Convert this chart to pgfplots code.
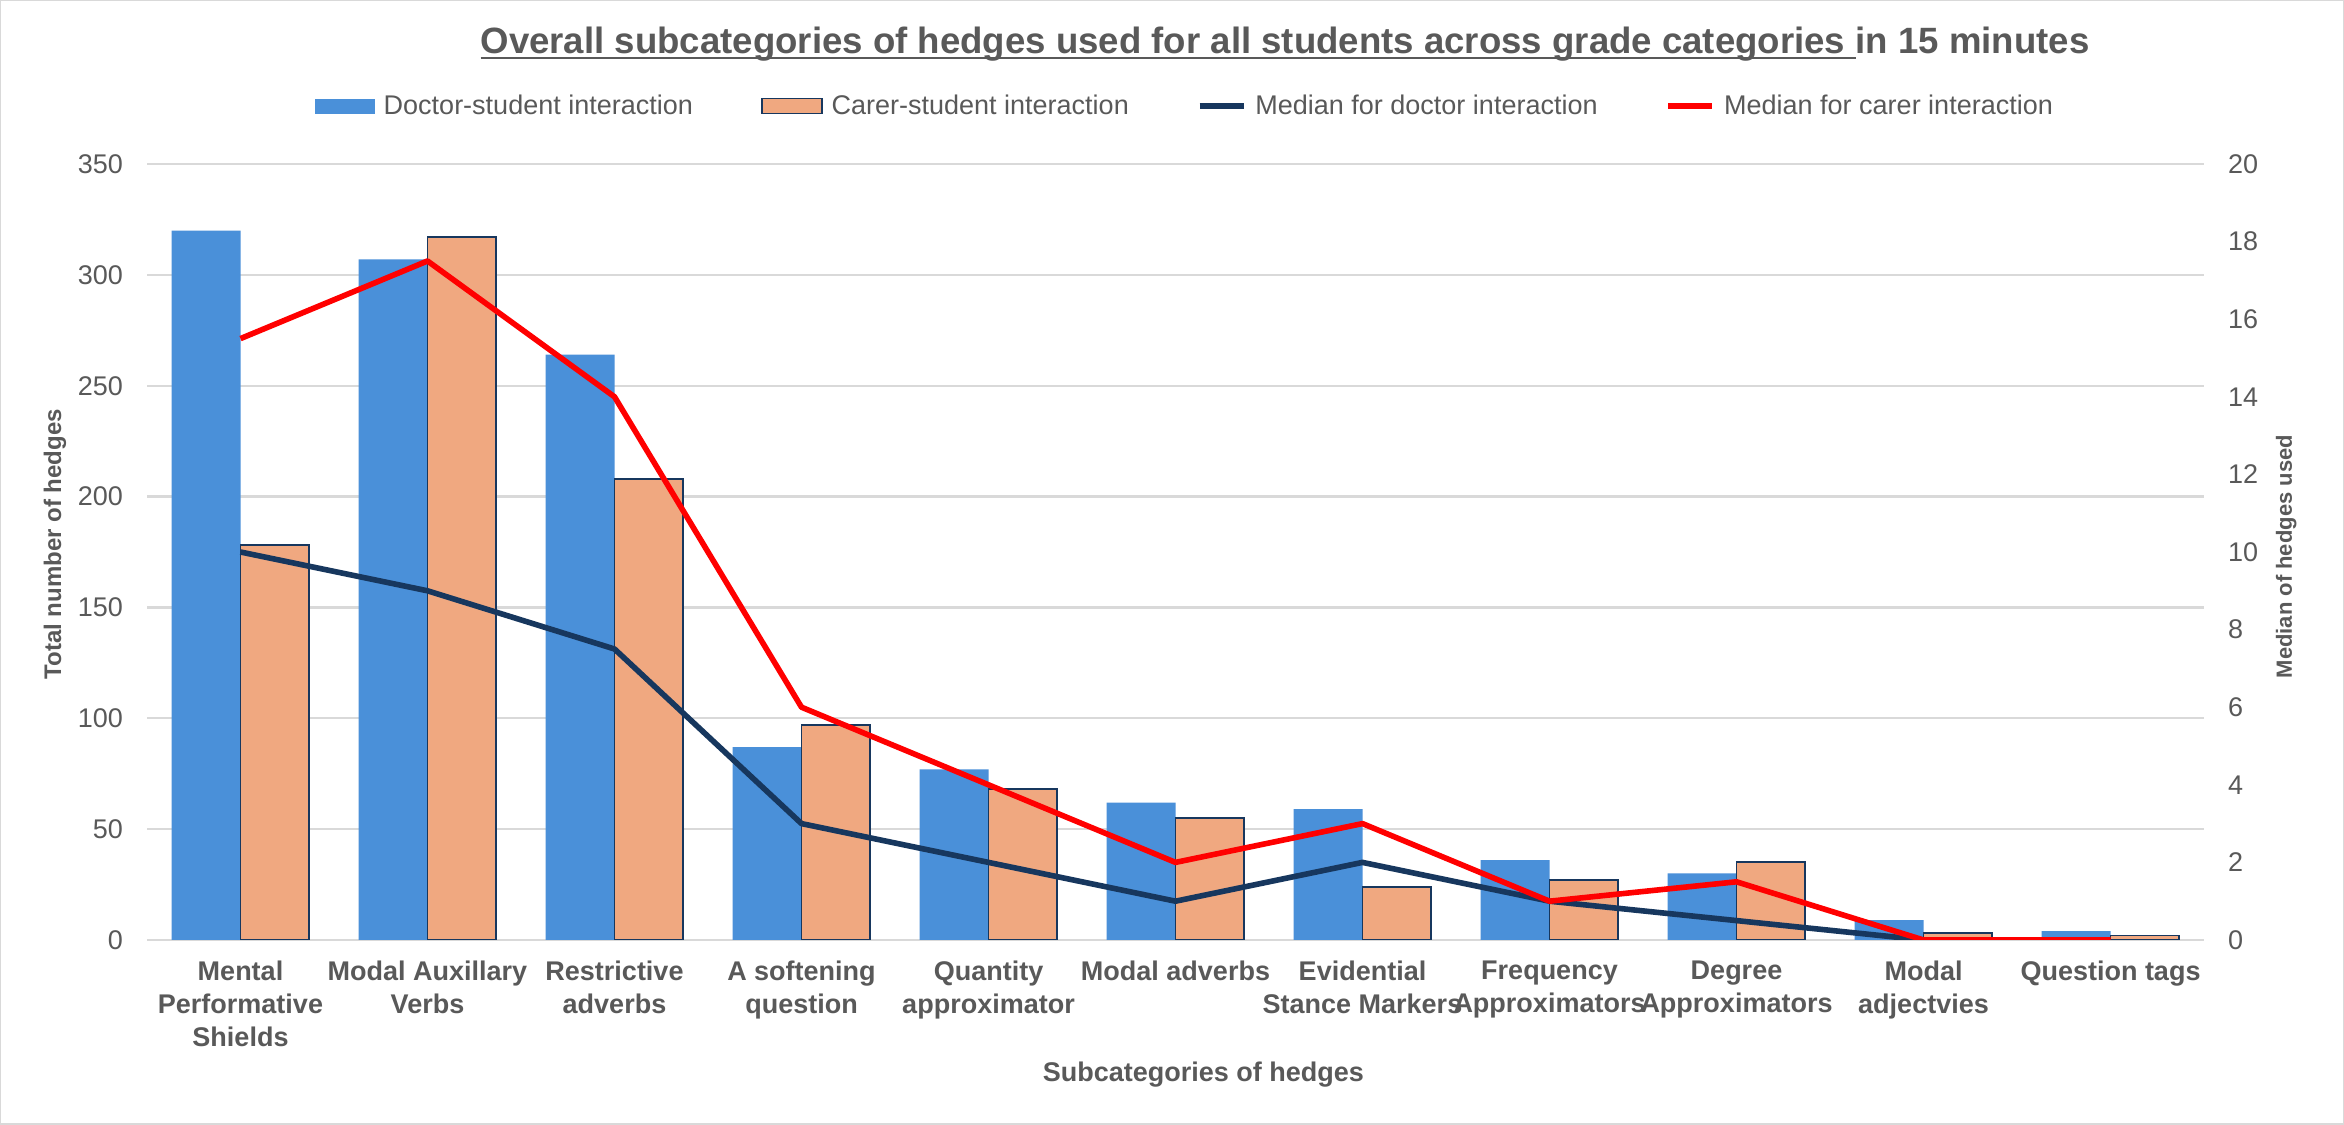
\documentclass[border=0pt]{standalone}
\usepackage{pgfplots}
\pgfplotsset{compat=1.18}
\usepackage{fontspec}
\setmainfont{Liberation Sans}
\definecolor{barblue}{RGB}{74,144,217}
\definecolor{barorange}{RGB}{240,168,128}
\definecolor{navy}{RGB}{23,55,94}
\definecolor{txtgray}{RGB}{89,89,89}
\definecolor{gridgray}{RGB}{217,217,217}
\newsavebox\ulbox
\newcommand\myul[1]{\sbox\ulbox{#1}\rlap{\rule[-2.4pt]{\wd\ulbox}{0.8pt}}\usebox\ulbox}
\begin{document}
\begin{tikzpicture}
\useasboundingbox (0,0) rectangle (1172pt,562pt);
\fill[white] (0,0) rectangle (1172pt,562pt);
\draw[gridgray, line width=1.2pt] (0,0) rectangle (1172pt,562pt);
\node[anchor=base, text=txtgray, font=\fontsize{18.3}{22}\selectfont\bfseries] at (642.5pt,535pt)
  {\myul{Overall subcategories of hedges used for all students across grade categories }in 15 minutes};
\begin{axis}[
  at={(73.5pt,92pt)}, anchor=south west,
  width=1028.5pt, height=388pt, scale only axis,
  xmin=-0.5, xmax=10.5, ymin=0, ymax=350,
  ytick={0,50,...,350},
  xtick={0,...,10},
  xticklabels={{Mental\\Performative\\Shields},{Modal Auxillary\\Verbs},{Restrictive\\adverbs},{A softening\\question},{Quantity\\approximator},{Modal adverbs},{Evidential\\Stance Markers},{Frequency\\Approximators},{Degree\\Approximators},{Modal\\adjectvies},{Question tags}},
  xticklabel style={align=center, font=\fontsize{13.5}{16.5}\selectfont\bfseries, text=txtgray, yshift=-7pt},
  yticklabel style={font=\fontsize{13.5}{16}\selectfont, text=txtgray, xshift=-8.5pt},
  /pgf/number format/assume math mode=true,
  major tick length=0pt,
  axis x line*=bottom, axis y line*=left,
  x axis line style={draw=gridgray, line width=1.2pt, -},
  y axis line style={draw=none},
  ymajorgrids, grid style={draw=gridgray, line width=1.2pt},
  ybar, bar width=0.368,
  xlabel={Subcategories of hedges},
  xlabel style={at={(axis description cs:0.5135,-0.173)}, anchor=center, font=\fontsize{13.5}{16}\selectfont\bfseries, text=txtgray},
  ylabel={Total number of hedges},
  ylabel style={at={(axis description cs:-0.0447,0.51)}, anchor=center, rotate=0, font=\fontsize{12}{14}\selectfont\bfseries, text=txtgray},
  legend style={at={(axis description cs:0.505,1.0747)}, anchor=center, draw=none, fill=none,
    font=\fontsize{13.5}{15}\selectfont, text=txtgray, legend columns=4,
    /tikz/every even column/.append style={column sep=32pt},
    /tikz/every odd column/.append style={column sep=2.5pt}},
  legend cell align=left,
]
\addplot[fill=barblue, draw=none, bar shift=-0.184,
  legend image code/.code={\fill[barblue] (0pt,-3.75pt) rectangle (30pt,3.75pt);}]
  coordinates {(0,320) (1,307) (2,264) (3,87) (4,77) (5,62) (6,59) (7,36) (8,30) (9,9) (10,4)};
\addlegendentry{Doctor-student interaction}
\addplot[fill=barorange, draw=navy, line width=0.9pt, bar shift=0.184,
  legend image code/.code={\draw[fill=barorange, draw=navy, line width=0.9pt] (0pt,-3.75pt) rectangle (30pt,3.75pt);}]
  coordinates {(0,178) (1,317) (2,208) (3,97) (4,68) (5,55) (6,24) (7,27) (8,35) (9,3) (10,2)};
\addlegendentry{Carer-student interaction}
\addlegendimage{legend image code/.code={\draw[navy, line width=2.8pt] (0pt,0pt) -- (22pt,0pt);}}
\addlegendentry{Median for doctor interaction}
\addlegendimage{legend image code/.code={\draw[red, line width=2.8pt] (0pt,0pt) -- (22pt,0pt);}}
\addlegendentry{Median for carer interaction}
\end{axis}
\begin{axis}[
  at={(73.5pt,92pt)}, anchor=south west,
  width=1028.5pt, height=388pt, scale only axis,
  xmin=-0.5, xmax=10.5, ymin=0, ymax=20,
  ytick={0,2,...,20},
  axis x line=none, axis y line*=right,
  y axis line style={draw=none},
  major tick length=0pt,
  yticklabel style={font=\fontsize{13.5}{16}\selectfont, text=txtgray, xshift=8.5pt},
  /pgf/number format/assume math mode=true,
  ylabel={Median of hedges used},
  ylabel style={at={(axis description cs:1.040,0.494)}, anchor=center, rotate=0, font=\fontsize{11}{13}\selectfont\bfseries, text=txtgray},
]
\addplot[navy, line width=2.8pt, line join=round, mark=none]
  coordinates {(0,10) (1,9) (2,7.5) (3,3) (4,2) (5,1) (6,2) (7,1) (8,0.5) (9,0) (10,0)};
\addplot[red, line width=2.8pt, line join=round, mark=none]
  coordinates {(0,15.5) (1,17.5) (2,14) (3,6) (4,4) (5,2) (6,3) (7,1) (8,1.5) (9,0) (10,0)};
\end{axis}
\end{tikzpicture}
\end{document}
